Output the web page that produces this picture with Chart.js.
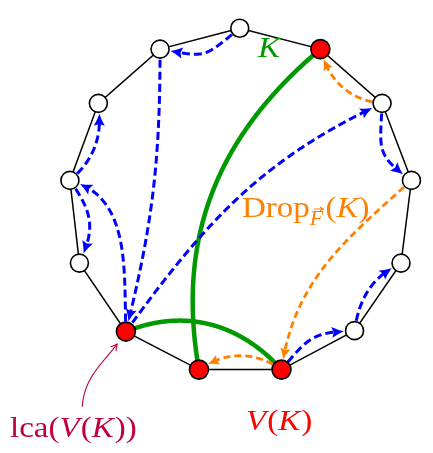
<!DOCTYPE html>
<html><head><meta charset="utf-8">
<script src="https://cdn.jsdelivr.net/npm/chart.js@4/dist/chart.umd.min.js"></script>
<style>html,body{margin:0;padding:0;background:#fff}#wrap{width:433px;height:453px;position:relative}</style>
</head><body><div id="wrap"><canvas id="c"></canvas></div>
<script>
// ---- data ----
const nodeX = [241, 326, 391, 422, 411, 362, 285, 198, 121, 72, 62, 92, 157];
const nodeY = [18, 40, 97, 178, 265, 336, 377, 377, 337, 265, 178, 97, 40];
const inK   = [0, 1, 0, 0, 0, 0, 1, 1, 1, 0, 0, 0, 0];
const blueFrom   = [0, 12, 8, 8, 10, 10, 2, 6, 5];
const blueTo     = [12, 8, 10, 2, 11, 9, 3, 5, 4];
const orangeFrom = [2, 3, 6];
const orangeTo   = [1, 6, 7];
const greenFrom  = [1, 8];
const greenTo    = [7, 6];
const lcaNode = 8;

// ---- geometry / style of the curves (out angle, in angle, looseness) ----
const blueShape   = [[219, -10, 1.5], [270, 76, 1], [92, -15, 1], [54, 205, 1], [40, 278, 1], [305, 65, 1.2], [268, 145, 1.4], [50, 182, 1.3], [82, 205, 1]];
const orangeShape = [[175, 284, 1], [222, 82, 1], [145, 35, 1]];
const greenShape  = [[220, 100, 1], [22, 132, 1]];

const BLUE = '#0000ff', ORANGE = '#ff8000', GREEN = '#009900', RED = '#ff0000', PURPLE = '#bf0040';
const FS = 30, STRETCH = 1.1;

function bezierPts(a, b, outDeg, inDeg, loose) {
  const L = Math.hypot(b.x - a.x, b.y - a.y), d = 0.3915 * L * loose;
  const o = outDeg * Math.PI / 180, i = inDeg * Math.PI / 180;
  const c1 = {x: a.x + d * Math.cos(o), y: a.y - d * Math.sin(o)};
  const c2 = {x: b.x + d * Math.cos(i), y: b.y - d * Math.sin(i)};
  const pts = [];
  for (let k = 0; k <= 400; k++) {
    const t = k / 400, u = 1 - t;
    pts.push({x: u*u*u*a.x + 3*u*u*t*c1.x + 3*u*t*t*c2.x + t*t*t*b.x,
              y: u*u*u*a.y + 3*u*u*t*c1.y + 3*u*t*t*c2.y + t*t*t*b.y});
  }
  return pts;
}
function trim(pts, a, r0, b, r1) {
  let i = 0, j = pts.length - 1;
  while (i < j && Math.hypot(pts[i].x - a.x, pts[i].y - a.y) < r0) i++;
  while (j > i && Math.hypot(pts[j].x - b.x, pts[j].y - b.y) < r1) j--;
  return pts.slice(i, j + 1);
}
function backPoint(pts, len) {
  let acc = 0;
  for (let k = pts.length - 1; k > 0; k--) {
    acc += Math.hypot(pts[k].x - pts[k-1].x, pts[k].y - pts[k-1].y);
    if (acc >= len) return k - 1;
  }
  return 0;
}
function drawCurve(ctx, a, b, shape, opt) {
  let pts = bezierPts(a, b, shape[0], shape[1], shape[2]);
  pts = trim(pts, a, opt.r0, b, opt.r1);
  let lineEnd = pts.length - 1;
  const tip = pts[pts.length - 1];
  let dir = null;
  if (opt.head) {
    const kb = backPoint(pts, opt.headLen);
    const base = pts[kb];
    dir = {x: tip.x - base.x, y: tip.y - base.y};
    const n = Math.hypot(dir.x, dir.y); dir.x /= n; dir.y /= n;
    lineEnd = opt.head === 'barb' ? pts.length - 1 : backPoint(pts, opt.headLen * 0.7);
  }
  ctx.save();
  ctx.strokeStyle = opt.color; ctx.lineWidth = opt.width; ctx.lineCap = 'butt'; ctx.lineJoin = 'round';
  ctx.setLineDash(opt.dash || []);
  ctx.beginPath();
  ctx.moveTo(pts[0].x, pts[0].y);
  for (let k = 1; k <= lineEnd; k++) ctx.lineTo(pts[k].x, pts[k].y);
  ctx.stroke();
  ctx.setLineDash([]);
  if (opt.head) {
    const L = opt.headLen, W = opt.headW, nx = -dir.y, ny = dir.x;
    if (opt.head === 'barb') {
      ctx.lineWidth = opt.width; ctx.lineCap = 'round';
      ctx.beginPath();
      ctx.moveTo(tip.x - L*dir.x + W*nx, tip.y - L*dir.y + W*ny);
      ctx.quadraticCurveTo(tip.x - 0.4*L*dir.x + 0.3*W*nx, tip.y - 0.4*L*dir.y + 0.3*W*ny, tip.x, tip.y);
      ctx.quadraticCurveTo(tip.x - 0.4*L*dir.x - 0.3*W*nx, tip.y - 0.4*L*dir.y - 0.3*W*ny, tip.x - L*dir.x - W*nx, tip.y - L*dir.y - W*ny);
      ctx.stroke();
    } else {
      ctx.fillStyle = opt.color;
      ctx.beginPath();
      ctx.moveTo(tip.x, tip.y);
      ctx.quadraticCurveTo(tip.x - 0.5*L*dir.x + 0.35*W*nx, tip.y - 0.5*L*dir.y + 0.35*W*ny, tip.x - L*dir.x + W*nx, tip.y - L*dir.y + W*ny);
      ctx.lineTo(tip.x - 0.85*L*dir.x, tip.y - 0.85*L*dir.y);
      ctx.lineTo(tip.x - L*dir.x - W*nx, tip.y - L*dir.y - W*ny);
      ctx.quadraticCurveTo(tip.x - 0.5*L*dir.x - 0.35*W*nx, tip.y - 0.5*L*dir.y - 0.35*W*ny, tip.x, tip.y);
      ctx.fill();
    }
  }
  ctx.restore();
}

function richText(ctx, parts, x, y, color) {
  ctx.save();
  ctx.translate(x, y);
  ctx.scale(STRETCH, 1);
  ctx.fillStyle = color; ctx.textBaseline = 'alphabetic'; ctx.textAlign = 'left';
  let cx = 0;
  for (const p of parts) {
    const size = p.size || FS;
    ctx.font = (p.it ? 'italic ' : '') + size + 'px "Liberation Serif"';
    const w = ctx.measureText(p.t).width;
    ctx.fillText(p.t, cx, (p.dy || 0));
    if (p.vec) {
      const vy = (p.dy || 0) - size * 0.8, x0 = cx + w * 0.3, x1 = cx + w * 1.0;
      ctx.strokeStyle = color; ctx.lineWidth = 1;
      ctx.beginPath(); ctx.moveTo(x0, vy); ctx.lineTo(x1, vy);
      ctx.moveTo(x1 - 3, vy - 2); ctx.lineTo(x1, vy); ctx.lineTo(x1 - 3, vy + 2); ctx.stroke();
    }
    cx += w + (p.sp || 0);
  }
  ctx.restore();
}

const diagramPlugin = {
  id: 'diagram',
  beforeDatasetDraw(chart, args) {
    if (args.index !== 0) return;
    const ctx = chart.ctx, sx = chart.scales.x, sy = chart.scales.y;
    const P = i => ({x: sx.getPixelForValue(nodeX[i]), y: sy.getPixelForValue(nodeY[i])});
    greenFrom.forEach((f, k) => drawCurve(ctx, P(f), P(greenTo[k]), greenShape[k],
      {color: GREEN, width: 4.5, r0: 8, r1: 8}));
    orangeFrom.forEach((f, k) => drawCurve(ctx, P(f), P(orangeTo[k]), orangeShape[k],
      {color: ORANGE, width: 2.8, dash: [7, 4], r0: 10, r1: 10.5, head: 'latex', headLen: 11, headW: 5}));
    blueFrom.forEach((f, k) => drawCurve(ctx, P(f), P(blueTo[k]), blueShape[k],
      {color: BLUE, width: 3, dash: [8, 4], r0: 10, r1: 10.5, head: 'latex', headLen: 12, headW: 5.5}));
    // lca pointer
    drawCurve(ctx, {x: sx.getPixelForValue(75), y: sy.getPixelForValue(416)}, P(lcaNode), [86, 238, 1],
      {color: PURPLE, width: 1.1, r0: 0, r1: 15, head: 'barb', headLen: 6, headW: 3.2});
  },
  afterDatasetsDraw(chart) {
    const ctx = chart.ctx;
    richText(ctx, [{t: 'K', it: true}], 258, 57, GREEN);
    richText(ctx, [{t: 'Drop'}, {t: 'F', it: true, size: 20, dy: 8, vec: true, sp: 2}, {t: '('}, {t: 'K', it: true}, {t: ')'}], 242, 217, ORANGE);
    richText(ctx, [{t: 'V', it: true, sp: 1}, {t: '('}, {t: 'K', it: true, sp: 1}, {t: ')'}], 246, 430, RED);
    richText(ctx, [{t: 'lca('}, {t: 'V', it: true, sp: 1}, {t: '('}, {t: 'K', it: true, sp: 1}, {t: '))'}], 10, 437, PURPLE);
  }
};

const nodePts = nodeX.map((x, i) => ({x, y: nodeY[i]}));
new Chart(document.getElementById('c'), {
  type: 'scatter',
  data: {
    datasets: [
      {
        data: nodePts,
        pointBackgroundColor: inK.map(v => v ? RED : '#ffffff'),
        pointBorderColor: '#000000',
        pointBorderWidth: 1.6,
        pointRadius: inK.map(v => v ? 9.5 : 9),
        showLine: false
      },
      {
        data: nodePts.concat([nodePts[0]]),
        showLine: true,
        borderColor: '#000000',
        borderWidth: 1.5,
        pointRadius: 0,
        fill: false
      }
    ]
  },
  options: {
    responsive: true, maintainAspectRatio: false, animation: false,
    layout: {padding: 0},
    plugins: {legend: {display: false}, tooltip: {enabled: false}},
    events: [],
    scales: {
      x: {type: 'linear', min: 0, max: 433, display: false},
      y: {type: 'linear', min: 0, max: 453, reverse: true, display: false}
    }
  },
  plugins: [diagramPlugin]
});
</script>
</body></html>
